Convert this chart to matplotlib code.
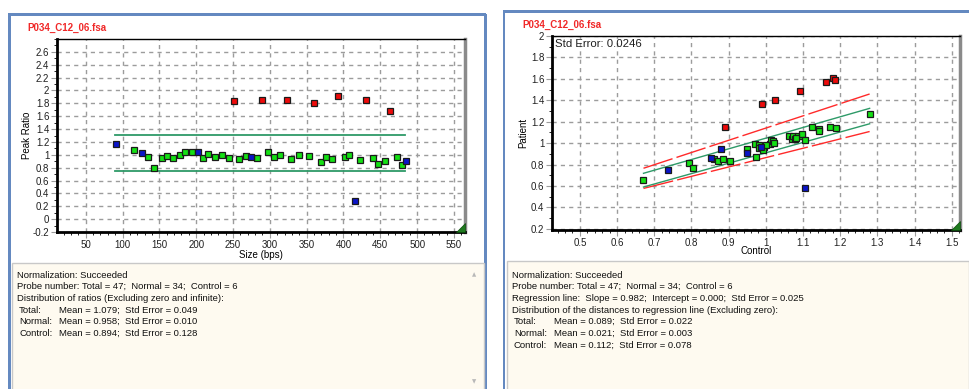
import matplotlib.pyplot as plt
from matplotlib.patches import Rectangle, Polygon
from matplotlib.ticker import FuncFormatter, AutoMinorLocator

W, H = 969, 389

# left panel: peak ratio against fragment size
size_normal = [115, 135, 143, 153, 161, 168, 178, 185, 194, 209, 216, 225, 235, 244,
               258, 267, 283, 298, 305, 314, 329, 339, 353, 369, 376, 385, 402, 408,
               423, 440, 447, 456, 472, 479]
ratio_normal = [1.067, 0.969, 0.789, 0.943, 0.985, 0.954, 1.0, 1.041, 1.041, 0.943,
                1.010, 0.959, 1.0, 0.943, 0.928, 0.985, 0.943, 1.041, 0.969, 1.0,
                0.928, 1.0, 0.985, 0.887, 0.969, 0.928, 0.959, 1.0, 0.918, 0.943,
                0.861, 0.902, 0.959, 0.845]
size_control = [91, 126, 202, 274, 416, 485]
ratio_control = [1.165, 1.026, 1.041, 0.959, 0.284, 0.902]
size_other = [251, 290, 323, 360, 393, 431, 463]
ratio_other = [1.840, 1.856, 1.856, 1.809, 1.912, 1.856, 1.675]
ratio_band = [0.753, 1.304]
band_size = [90, 484]
left_xticks = [50, 100, 150, 200, 250, 300, 350, 400, 450, 500, 550]
left_yticks = [-0.2, 0, 0.2, 0.4, 0.6, 0.8, 1, 1.2, 1.4, 1.6, 1.8, 2, 2.2, 2.4, 2.6]

# right panel: patient against control
ctrl_normal = [0.671, 0.794, 0.805, 0.861, 0.872, 0.884, 0.903, 0.949, 0.974, 0.972,
               0.982, 0.982, 0.995, 0.993, 1.010, 1.015, 1.018, 1.022, 1.061, 1.069,
               1.073, 1.078, 1.087, 1.097, 1.098, 1.105, 1.125, 1.144, 1.144, 1.172,
               1.189, 1.279, 1.000, 1.080]
pat_normal = [0.656, 0.816, 0.766, 0.856, 0.834, 0.850, 0.834, 0.950, 0.869, 0.994,
              0.981, 0.959, 0.966, 0.934, 0.997, 1.031, 1.016, 1.000, 1.063, 1.037,
              1.066, 1.037, 1.066, 1.063, 1.088, 1.028, 1.153, 1.134, 1.116, 1.153,
              1.144, 1.272, 0.985, 1.050]
ctrl_control = [0.738, 0.853, 0.880, 0.950, 0.988, 1.104]
pat_control = [0.750, 0.866, 0.950, 0.909, 0.966, 0.581]
ctrl_other = [0.891, 0.989, 1.025, 1.091, 1.161, 1.180, 1.185]
pat_other = [1.153, 1.366, 1.400, 1.491, 1.575, 1.609, 1.591]
reg_x = [0.671, 1.279]
inner_upper = [0.719, 1.325]
inner_lower = [0.591, 1.181]
outer_upper = [0.766, 1.459]
outer_lower = [0.578, 1.109]
std_error = 0.0246
right_xticks = [0.5, 0.6, 0.7, 0.8, 0.9, 1, 1.1, 1.2, 1.3, 1.4, 1.5]
right_yticks = [0.2, 0.4, 0.6, 0.8, 1, 1.2, 1.4, 1.6, 1.8, 2]

left_text = ["Normalization: Succeeded",
             "Probe number: Total = 47;  Normal = 34;  Control = 6",
             "Distribution of ratios (Excluding zero and infinite):"]
left_stats = [("Total:", "Mean = 1.079;  Std Error = 0.049"),
              ("Normal:", "Mean = 0.958;  Std Error = 0.010"),
              ("Control:", "Mean = 0.894;  Std Error = 0.128")]
right_text = ["Normalization: Succeeded",
              "Probe number: Total = 47;  Normal = 34;  Control = 6",
              "Regression line:  Slope = 0.982;  Intercept = 0.000;  Std Error = 0.025",
              "Distribution of the distances to regression line (Excluding zero):"]
right_stats = [("Total:", "Mean = 0.089;  Std Error = 0.022"),
               ("Normal:", "Mean = 0.021;  Std Error = 0.003"),
               ("Control:", "Mean = 0.112;  Std Error = 0.078")]

FONT = "Liberation Sans"
GREEN = "#14e014"
BLUE = "#0a14c8"
RED = "#ee0a0a"
LINEGREEN = "#2e9a68"
GRID = "#9c9c9c"


def fx(x):
    return x / W


def fy(y):
    return 1 - y / H


def rect(x0, y0, x1, y1, **kw):
    fig.add_artist(Rectangle((fx(x0), fy(y1)), (x1 - x0) / W, (y1 - y0) / H,
                             transform=fig.transFigure, **kw))


def ftext(x, y, s, **kw):
    kw.setdefault("fontsize", 6.8)
    kw.setdefault("family", FONT)
    kw.setdefault("color", "#101010")
    fig.text(fx(x), fy(y), s, va="center", ha="left", **kw)


def style_axes(ax, xticks, yticks):
    ax.set_xticks(xticks)
    ax.set_yticks(yticks)
    for side in ["left", "bottom"]:
        ax.spines[side].set_linewidth(2)
        ax.spines[side].set_color("black")
    ax.spines["top"].set_linewidth(1)
    ax.spines["right"].set_linewidth(2.5)
    ax.spines["right"].set_color("#8a8a8a")
    ax.xaxis.set_minor_locator(AutoMinorLocator(5))
    ax.yaxis.set_minor_locator(AutoMinorLocator(2))
    ax.tick_params(which="major", length=4, width=0.8, color=GRID,
                   labelsize=7, labelcolor="#202020", pad=1.5)
    ax.tick_params(which="minor", length=2, width=0.6, color="black")
    fmt = FuncFormatter(lambda v, p: f"{round(v, 2):g}")
    ax.xaxis.set_major_formatter(fmt)
    ax.yaxis.set_major_formatter(fmt)
    for lab in ax.get_xticklabels() + ax.get_yticklabels():
        lab.set_family(FONT)
    # dashed grid at every major tick
    ax.vlines(xticks, 0, 1, transform=ax.get_xaxis_transform(), colors=GRID,
              linewidths=1.0, linestyles=(0, (3, 3)), zorder=2)
    ax.hlines(yticks, 0, 1, transform=ax.get_yaxis_transform(), colors=GRID,
              linewidths=1.0, linestyles=(0, (3, 3)), zorder=2)
    # little green triangle in the lower right corner
    tw, th = 9 / (ax.get_position().width * W), 9 / (ax.get_position().height * H)
    ax.add_patch(Polygon([(1 - tw, 0), (1, 0), (1, th)], closed=True,
                         transform=ax.transAxes, facecolor="#1f7a1f",
                         edgecolor="#0d4d0d", lw=0.5, zorder=5, clip_on=False))


def scatter(ax, x, y, color):
    ax.plot(x, y, linestyle="none", marker="s", markersize=4.6,
            markerfacecolor=color, markeredgecolor="#1a1a1a",
            markeredgewidth=0.9, zorder=4)


fig = plt.figure(figsize=(W / 100, H / 100), dpi=100)
fig.patch.set_facecolor("white")

# window frames and text boxes
for x0, x1, top in [(8, 486, 14), (503, 969, 11)]:
    rect(x0, top - 1, x1, top + 1.5, facecolor="#6489c0", edgecolor="none", zorder=1)
    rect(x0, top, x0 + 2.5, H + 2, facecolor="#6489c0", edgecolor="none", zorder=1)
rect(484, 14, 486.5, H + 2, facecolor="#6489c0", edgecolor="none", zorder=1)
rect(12, 263, 484, H + 2, facecolor="#fefaf0", edgecolor="#c8c8c8", lw=1, zorder=1)
rect(507, 261, 969, H + 2, facecolor="#fefaf0", edgecolor="#c8c8c8", lw=1, zorder=1)
ftext(472, 275, "\u25b2", fontsize=4, color="#b8b8b8", family="DejaVu Sans")
ftext(472, 382, "\u25bc", fontsize=4, color="#b8b8b8", family="DejaVu Sans")

# left plot
ax1 = fig.add_axes([fx(57), fy(232), 408 / W, 193 / H])
style_axes(ax1, left_xticks, left_yticks)
for level in ratio_band:
    ax1.plot(band_size, [level, level], color=LINEGREEN, lw=1.3, zorder=3)
scatter(ax1, size_normal, ratio_normal, GREEN)
scatter(ax1, size_control, ratio_control, BLUE)
scatter(ax1, size_other, ratio_other, RED)
ax1.set_xlim(11, 565)
ax1.set_ylim(-0.2, 2.8)
ax1.set_xlabel("Size (bps)", fontsize=7, family=FONT)
ax1.set_ylabel("Peak Ratio", fontsize=7, family=FONT)
ax1.xaxis.set_label_coords(0.5, -0.095)
ax1.yaxis.set_label_coords(-0.062, 0.5)

# right plot
ax2 = fig.add_axes([fx(552), fy(230), 408 / W, 194 / H])
style_axes(ax2, right_xticks, right_yticks)
ax2.plot(reg_x, outer_upper, color="#ff2a2a", lw=1, linestyle=(0, (22, 3)), zorder=3)
ax2.plot(reg_x, outer_lower, color="#ff2a2a", lw=1, linestyle=(0, (22, 3)), zorder=3)
ax2.plot(reg_x, inner_upper, color=LINEGREEN, lw=1, zorder=3)
ax2.plot(reg_x, inner_lower, color=LINEGREEN, lw=1, zorder=3)
scatter(ax2, ctrl_normal, pat_normal, GREEN)
scatter(ax2, ctrl_control, pat_control, BLUE)
scatter(ax2, ctrl_other, pat_other, RED)
ax2.set_xlim(0.425, 1.522)
ax2.set_ylim(0.19, 2.0)
ax2.set_xlabel("Control", fontsize=7, family=FONT)
ax2.set_ylabel("Patient", fontsize=7, family=FONT)
ax2.xaxis.set_label_coords(0.5, -0.085)
ax2.yaxis.set_label_coords(-0.058, 0.5)
ax2.text(0.008, 0.985, f"Std Error: {std_error:.4f}", transform=ax2.transAxes,
         ha="left", va="top", fontsize=8.2, family=FONT, color="#202020", zorder=6)

# titles
ftext(27, 28, "P034_C12_06.fsa", fontsize=7, weight="bold", color="#f02828")
ftext(522, 25, "P034_C12_06.fsa", fontsize=7, weight="bold", color="#f02828")

# summary text
for x0, lines, stats in [(17, left_text, left_stats), (512, right_text, right_stats)]:
    y = 275
    for line in lines:
        ftext(x0, y, line)
        y += 11.7
    for label, value in stats:
        ftext(x0 + 2, y, label)
        ftext(x0 + 42, y, value)
        y += 11.7

fig.savefig("out.png", dpi=100)
